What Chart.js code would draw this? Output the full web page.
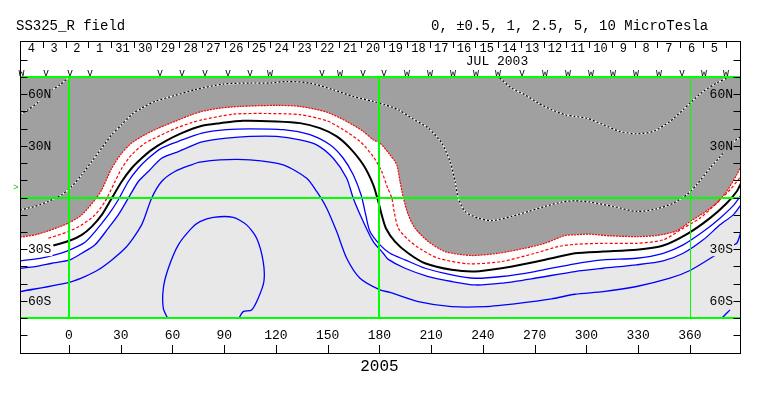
<!DOCTYPE html>
<html>
<head>
<meta charset="utf-8">
<script src="https://cdn.jsdelivr.net/npm/chart.js@4.4.1/dist/chart.umd.min.js"></script>
<style>
  html, body { margin: 0; padding: 0; background: #fff; }
  #wrap { width: 763px; height: 396px; position: relative; }
</style>
</head>
<body>
<div id="wrap"><canvas id="map"></canvas></div>
<script>
'use strict'

// map window, Carrington longitude / latitude
const LON_MIN = -28.4, LON_MAX = 389.6;
const LAT_MIN = -70, LAT_MAX = 70;

const LON_TICKS = [0, 30, 60, 90, 120, 150, 180, 210, 240, 270, 300, 330, 360];
const LAT_LABEL_VALUES = [60, 30, -30, -60];
const LAT_LABELS = ['60N', '30N', '30S', '60S'];
const DAY_LABELS = ['4','3','2','1','31','30','29','28','27','26','25','24','23','22','21','20',
                    '19','18','17','16','15','14','13','12','11','10','9','8','7','6','5'];
const OBS_LON  = [-27.5,-13.3,0.6,12.2,52.8,65.5,78.8,92.2,104.9,116.5,146.7,157.1,170.4,182.6,196,
                  209.3,222.6,235.9,248.7,262.6,275.9,289.3,302.6,315.4,328.7,342,355.4,368.1,380.9];
const OBS_TYPE = ['w','v','v','v','v','v','v','v','v','w','v','w','v','v','w',
                  'w','w','w','w','v','w','w','w','w','w','w','v','w','w'];

  ////////////////////////////////////////
 // contour lines as [lon, lat] points //
////////////////////////////////////////

// -1 microtesla, edge of the dark region
const NEG_ONE = [[-28.4,-23.1],[-19.7,-21.7],[-12,-19.4],[-0.4,-14.9],[7.4,-10.1],[15.1,-1.3],[19,4.5],
  [24.8,17],[30.6,25.8],[36.3,31.6],[44.1,36.5],[51.8,40.3],[61.4,44.2],[71.1,48.1],[77,50],[87.5,51.9],
  [99.1,52.9],[120.4,53.5],[133.9,52.9],[149.4,49.6],[161,44.2],[170.6,38.4],[176.4,33.5],[180.3,31.6],
  [186.1,24.8],[190,19],[191.9,9.3],[193.8,0],[196.7,-10.1],[200.6,-17.8],[208.3,-25.6],[218,-31.4],
  [233.4,-33.7],[248.9,-32.4],[264.3,-29.5],[275.9,-26.6],[287.5,-22.1],[293.3,-21.7],[302,-21.3],
  [313.6,-22.3],[329.1,-22.7],[340.7,-22.1],[352.3,-19.4],[360,-14],[367.7,-9.1],[375.5,-3.3],
  [381.3,3.5],[387.1,13.2],[389.6,18]];

const NEG_HALF = [[-12,-23.7],[-0.4,-19.8],[7.4,-15.9],[15.1,-10.1],[20.9,-2.3],[26.7,9.3],[30.6,17],
  [36.3,24.8],[44.1,31.6],[51.8,35.5],[61.4,40],[71.1,43.5],[77.1,45.1],[95.2,48.4],[114.6,48.8],
  [133.9,48.1],[149.4,44.6],[159,39.4],[168.7,32.6],[176.4,23.8],[181.3,15.1],[184.8,5.4],[187.2,-0.5],
  [188.5,-8.1],[190.9,-17.8],[196.7,-24.6],[204.5,-30.4],[214.1,-35.3],[231.5,-38.5],[250.8,-37.2],
  [270.1,-32.4],[283.7,-28.5],[293.3,-27.2],[309.7,-26.6],[329.1,-26.6],[344.5,-24.6],[356.1,-17.8],
  [365.8,-12],[375.5,-3.3],[383.2,4.5],[389.6,12.2]];

const NEUTRAL = [[-9.1,-27.9],[0.6,-25],[7.4,-21.7],[13.2,-16.9],[19,-10.1],[24.8,-0.4],[30.6,9.3],
  [36.3,17],[42.1,22.8],[47.9,27.7],[55.7,32.6],[65.3,37.4],[77.1,41.7],[87.5,43.2],[101,44.6],
  [120.4,44.2],[133.9,43.2],[145.5,40.3],[155.2,35.5],[162.9,28.7],[170.6,19],[176.4,7.4],[179.3,-2.3],
  [181.3,-10.1],[183.8,-18],[189,-25.6],[196.7,-32.4],[206.4,-38.2],[221.9,-42],[235.4,-43],
  [250.8,-41.1],[266.3,-38.2],[279.8,-35.3],[293.3,-32.4],[309.7,-31.4],[329.1,-30.4],[344.5,-27.9],
  [359,-20.8],[371.6,-12],[381.3,-3.3],[387.1,3.5],[389.6,8.3]];

const POS_HALF = [[-28.4,-36.8],[-16.8,-35.3],[-8.1,-33.3],[0.6,-30.4],[9.3,-26],[15.1,-19.8],
  [22.8,-10.1],[28.6,-1.3],[34.4,9.3],[40.2,17],[46,22.8],[53.7,28.7],[63.4,32.6],[77.1,37.4],
  [91.4,39.4],[104.9,39.9],[124.2,39.4],[139.7,36.5],[151.3,30.6],[159,22.8],[164.8,13.2],[169.5,1],
  [172,-10],[174.5,-19.8],[180.3,-27.5],[186.1,-32.4],[194.8,-36.2],[206.4,-41.1],[221.9,-44.9],
  [235.4,-46.9],[250.8,-45.9],[270.1,-43],[293.3,-38.5],[309.7,-36.2],[329.1,-35.3],[344.5,-32.4],
  [356.1,-27.5],[367.7,-19.8],[377.4,-12],[385.1,-4.7],[389.6,1.2]];

// +1 microtesla, edge of the light region
const POS_ONE = [[-28.4,-41.1],[-19.7,-40.1],[-10,-38.2],[0.6,-36.2],[7.4,-32.4],[15.1,-27.5],
  [22.8,-17.8],[28.6,-10.1],[34.4,-0.4],[40.2,9.3],[46,15.1],[53.7,22.8],[63.4,26.7],[77.1,32.3],
  [91.4,34.5],[104.9,35.5],[120.4,35.5],[133.9,33.5],[143.6,30.6],[153.2,22.8],[161,11.2],[164.8,-0.4],
  [170.6,-14],[176.4,-25.6],[182.2,-32.4],[184.9,-35.8],[194.8,-41.1],[208.3,-45.9],[221.9,-48.8],
  [235.4,-50.8],[250.8,-49.8],[270.1,-46.9],[293.3,-43],[309.7,-41.1],[329.1,-39.1],[344.5,-36.8],
  [356.1,-32.4],[367.7,-24.6],[377.4,-15.9],[385.1,-10.1],[389.6,-4.2]];

const POS_2_5 = [[-28.4,-54.7],[1.6,-48.8],[17,-42],[32.5,-29.5],[42.1,-15.9],[47.9,-0.4],[53.7,9.3],
  [61.4,15.1],[71.1,19],[75.9,20.5],[87.5,21.9],[104.9,21.9],[124.2,19],[137.8,11.2],[143.6,3.5],
  [149.4,-6.2],[155.2,-19.8],[161,-35.3],[168.7,-46.9],[180.3,-53.7],[186.1,-55.1],[202.5,-60.5],
  [221.9,-63.4],[241.2,-63.4],[260.5,-61.5],[279.8,-58.9],[293.3,-56.2],[309.7,-54.7],[329.1,-51.7],
  [348.4,-46.9],[360,-42.4],[373.5,-34.3],[380.9,-29.1],[387.1,-26.6],[389.6,-19.8]];

const POS_FIVE = [[57.6,-71],[54.7,-64.4],[54.7,-52.7],[57.6,-41.1],[63.4,-27.5],[71.1,-17.8],
  [75.9,-14],[83.7,-11.5],[95.2,-11.5],[103,-15.9],[108.8,-23.7],[112.6,-37.2],[113,-48.8],
  [109.7,-58.5],[105.9,-65.3],[101,-66.3],[98.1,-71]];

const POS_FIVE_EDGE = [[376.5,-72],[378.4,-70.2],[383.2,-65.3]];

const NEG_2_5 = [[-28.4,-7.2],[-19.7,-5.2],[-12,-2.3],[-4.2,1.6],[1.6,6.4],[7.4,13.2],[13.2,20.9],
  [19,28.7],[24.8,36.5],[30.6,42.3],[36.3,48.1],[42.1,51.9],[49.9,55.8],[61.4,59.3],[73,62.6],
  [89.4,65.9],[104.9,66.5],[116.5,66.5],[126.2,67.4],[139.7,66.5],[153.2,62.6],[164.8,58.7],
  [176.4,55.8],[183.2,53.9],[190.9,51],[198.7,46.1],[208.3,40.3],[216.1,31.6],[220.9,20.9],
  [223.8,9.3],[225.7,-0.4],[229.6,-8.1],[237.3,-12],[245,-13.4],[256.6,-11],[266.3,-8.1],
  [275.9,-5.2],[285.6,-2.7],[293.3,-1.9],[302,-2.7],[315.5,-5.2],[329.1,-8.1],[340.7,-6.6],
  [350.3,-3.3],[358.1,1.6],[363.9,7.4],[371.6,17],[378.4,24.8],[382,29.7],[389.6,35.5]];

const NEG_FIVE_WEST = [[-28.4,48.1],[-23.6,51],[-17.8,55.4],[-11,61.6],[-5.2,65.5],[0.6,70.3],[1.5,71]];

const NEG_FIVE_EAST = [[248,71],[248.9,70.3],[256.6,63.5],[264.3,59.7],[272.1,54.8],[279.8,51],
  [287.5,48.1],[293.3,47.1],[300.1,46.1],[309.7,42.3],[319.4,38.4],[329.1,37],[338.7,38.4],
  [348.4,44.2],[356.1,51],[360,54.8],[367.7,61.6],[375.5,66.5],[381.3,69.4],[383.2,71]];

  ////////////////
 // styles     //
////////////////

const DARK = '#a0a0a0';
const LIGHT = '#e8e8e8';
const GREEN = '#00ff00';
const MONO = '"Liberation Mono", "DejaVu Sans Mono", monospace';
const FRAME_TOP = 41, FRAME_BOTTOM = 353;
const DAY_DEG = 360 / 27.2753;

const toXY = pairs => pairs.map(p => ({ x: p[0], y: p[1] }));

const line = (data, color, width, dash, order, extra) => Object.assign({
  data: toXY(data),
  borderColor: color,
  borderWidth: width,
  borderDash: dash,
  pointRadius: 0,
  tension: 0.25,
  fill: false,
  order: order
}, extra || {});

const datasets = [
  line(NEG_ONE, '#ff0000', 1.2, [2, 1], 2, { fill: 'end', backgroundColor: DARK }),
  line(POS_ONE, '#0000ff', 1.3, [], 3, { fill: 'start', backgroundColor: LIGHT }),
  line(NEG_HALF, '#ff0000', 1.2, [3, 2], 2),
  line(NEUTRAL, '#000000', 2, [], 1),
  line(POS_HALF, '#0000ff', 1.3, [], 3),
  line(POS_2_5, '#0000ff', 1.3, [], 3),
  line(POS_FIVE, '#0000ff', 1.3, [], 3),
  line(POS_FIVE_EDGE, '#0000ff', 1.3, [], 3)
];

// dotted contours inside the dark region: white line under black dashes
[NEG_2_5, NEG_FIVE_WEST, NEG_FIVE_EAST].forEach(c => {
  datasets.push(line(c, '#ffffff', 1.2, [], 6));
  datasets.push(line(c, '#000000', 1.2, [2, 2], 5));
});

  /////////////////////////////////////////
 // frame, strip, labels and green grid //
/////////////////////////////////////////

const text = (ctx, str, x, y, size, align) => {
  ctx.font = size + 'px ' + MONO;
  ctx.textAlign = align || 'center';
  ctx.textBaseline = 'middle';
  ctx.fillText(str, x, y);
};

const mapFrame = {
  id: 'mapFrame',

  afterDatasetsDraw(chart) {
    const { ctx, chartArea: a, scales: { x, y } } = chart;
    ctx.save();
    ctx.strokeStyle = GREEN;

    [[0, 2], [180, 2], [360, 1]].forEach(([lon, w]) => {
      const px = Math.round(x.getPixelForValue(lon)) + (w === 1 ? 0.5 : 0);
      ctx.lineWidth = w;
      ctx.beginPath(); ctx.moveTo(px, a.top); ctx.lineTo(px, a.bottom); ctx.stroke();
    });
    [LAT_MAX, 0, LAT_MIN].forEach(lat => {
      const py = Math.round(y.getPixelForValue(lat));
      ctx.lineWidth = 2;
      ctx.beginPath(); ctx.moveTo(a.left, py); ctx.lineTo(a.right, py); ctx.stroke();
    });

    // latitude labels sit on a patch of the region colour below them
    const leftBg = [DARK, DARK, '#ffffff', LIGHT];
    const rightBg = [DARK, DARK, LIGHT, LIGHT];
    ctx.font = '13px ' + MONO;
    LAT_LABEL_VALUES.forEach((lat, i) => {
      const py = y.getPixelForValue(lat);
      const w = ctx.measureText(LAT_LABELS[i]).width;
      ctx.fillStyle = leftBg[i];
      ctx.fillRect(a.left + 8, py - 7, w + 1, 14);
      ctx.fillStyle = rightBg[i];
      ctx.fillRect(a.right - 8 - w, py - 7, w + 1, 14);
      ctx.fillStyle = '#000';
      text(ctx, LAT_LABELS[i], a.left + 8, py + 0.5, 13, 'left');
      text(ctx, LAT_LABELS[i], a.right - 8, py + 0.5, 13, 'right');
    });
    ctx.restore();
  },

  afterDraw(chart) {
    const { ctx, chartArea: a, scales: { x, y } } = chart;
    ctx.save();
    ctx.strokeStyle = '#000';
    ctx.fillStyle = '#000';
    ctx.lineWidth = 1;

    const L = Math.round(a.left) + 0.5, R = Math.round(a.right) - 0.5;
    ctx.strokeRect(L, FRAME_TOP + 0.5, R - L, FRAME_BOTTOM - FRAME_TOP);

    // latitude ticks both sides, every 10 degrees
    ctx.beginPath();
    for (let lat = -80; lat <= 80; lat += 10) {
      const py = Math.round(y.getPixelForValue(lat)) + 0.5;
      ctx.moveTo(L, py); ctx.lineTo(L + 7, py);
      ctx.moveTo(R, py); ctx.lineTo(R - 7, py);
    }
    // longitude ticks along the bottom of the frame
    LON_TICKS.forEach(lon => {
      const px = Math.round(x.getPixelForValue(lon)) + 0.5;
      ctx.moveTo(px, FRAME_BOTTOM); ctx.lineTo(px, FRAME_BOTTOM - 8);
    });
    // day separators in the date strip
    for (let k = 1; k <= DAY_LABELS.length; k++) {
      const px = Math.round(x.getPixelForValue(LON_MIN + k * DAY_DEG)) + 0.5;
      ctx.moveTo(px, FRAME_TOP + 1); ctx.lineTo(px, FRAME_TOP + 7);
    }
    ctx.stroke();

    LON_TICKS.forEach(lon => text(ctx, String(lon), x.getPixelForValue(lon), 336, 13));

    DAY_LABELS.forEach((d, k) => {
      text(ctx, d, x.getPixelForValue(LON_MIN + (k + 0.5) * DAY_DEG), 48.5, 12);
    });
    text(ctx, 'JUL 2003', 497, 62, 13);

    ctx.font = '10px ' + MONO;
    ctx.textAlign = 'center';
    ctx.textBaseline = 'alphabetic';
    OBS_LON.forEach((lon, i) => ctx.fillText(OBS_TYPE[i], x.getPixelForValue(lon), 76));

    text(ctx, 'SS325_R field', 16, 26, 14, 'left');
    text(ctx, '0, \u00b10.5, 1, 2.5, 5, 10 MicroTesla', 431, 26, 14, 'left');
    text(ctx, '2005', x.getPixelForValue(180), 367, 16);

    ctx.fillStyle = '#00cc00';
    text(ctx, '>', 16, 188, 9);
    ctx.restore();
  }
};

window.onload = () => {
  new Chart(document.getElementById('map'), {
    type: 'line',
    data: { datasets },
    options: {
      responsive: true,
      maintainAspectRatio: false,
      animation: false,
      events: [],
      layout: { padding: { left: 20, right: 22, top: 77, bottom: 78 } },
      scales: {
        x: { type: 'linear', min: LON_MIN, max: LON_MAX, display: false },
        y: { type: 'linear', min: LAT_MIN, max: LAT_MAX, display: false }
      },
      plugins: {
        legend: { display: false },
        tooltip: { enabled: false },
        filler: { drawTime: 'beforeDatasetsDraw' }
      }
    },
    plugins: [mapFrame]
  });
};
</script>
</body>
</html>
